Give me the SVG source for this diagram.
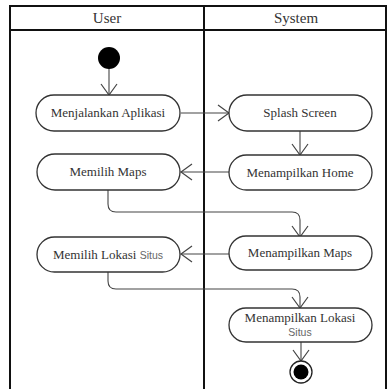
<svg xmlns="http://www.w3.org/2000/svg" width="388" height="391" viewBox="0 0 388 391">
  <style>
    .frame { fill: none; stroke: #111; stroke-width: 2; }
    .act rect { fill: #fff; stroke: #333; stroke-width: 1.3; }
    .lbl { font-family: "Liberation Serif", "Times New Roman", serif; font-size: 13px; fill: #333; text-anchor: middle; }
    .sans { font-family: "Liberation Sans", Arial, sans-serif; font-size: 10.5px; fill: #666; }
    .head { font-family: "Liberation Serif", "Times New Roman", serif; font-size: 15px; fill: #333; text-anchor: middle; }
    .flow { fill: none; stroke: #444; stroke-width: 1.1; marker-end: url(#open); }
  </style>
  <defs>
    <marker id="open" viewBox="0 0 13 18" refX="12" refY="9" markerWidth="13" markerHeight="18" markerUnits="userSpaceOnUse" orient="auto">
      <path d="M1,1 L12,9 L1,17" fill="none" stroke="#444" stroke-width="1.2"/>
    </marker>
  </defs>
  <rect width="388" height="391" fill="#fff"/>

  <!-- swimlanes -->
  <g id="lanes">
    <path class="frame" d="M10,389 V6 H386 V389"/>
    <path class="frame" d="M10,30 H386"/>
    <path class="frame" d="M204,6 V389"/>
    <text class="head" x="107" y="23">User</text>
    <text class="head" x="296" y="23">System</text>
  </g>

  <!-- connectors -->
  <g id="connectors">
    <path class="flow" d="M109,68 V95"/>
    <path class="flow" d="M181,113 H229"/>
    <path class="flow" d="M300,131 V155"/>
    <path class="flow" d="M229,172 H181"/>
    <path class="flow" d="M108,190 V204 Q108,212 116,212 H292 Q300,212 300,220 V237"/>
    <path class="flow" d="M229,254 H181"/>
    <path class="flow" d="M108,272 V281 Q108,289 116,289 H292 Q300,289 300,297 V308"/>
    <path class="flow" d="M301,342 V361"/>
  </g>

  <!-- initial node -->
  <g id="start">
    <circle cx="109" cy="58" r="11" fill="#000"/>
  </g>

  <g id="menjalankan" class="act">
    <rect x="36" y="95" width="144" height="36" rx="18"/>
    <text class="lbl" x="108" y="117">Menjalankan Aplikasi</text>
  </g>

  <g id="splash" class="act">
    <rect x="229" y="95" width="143" height="36" rx="18"/>
    <text class="lbl" x="300" y="117">Splash Screen</text>
  </g>

  <g id="home" class="act">
    <rect x="229" y="155" width="143" height="35" rx="17.5"/>
    <text class="lbl" x="300" y="177">Menampilkan Home</text>
  </g>

  <g id="memilih-maps" class="act">
    <rect x="37" y="154" width="143" height="36" rx="18"/>
    <text class="lbl" x="108" y="176">Memilih Maps</text>
  </g>

  <g id="maps" class="act">
    <rect x="229" y="236" width="143" height="34" rx="17"/>
    <text class="lbl" x="300" y="257">Menampilkan Maps</text>
  </g>

  <g id="memilih-lokasi" class="act">
    <rect x="37" y="237" width="143" height="35" rx="17.5"/>
    <text class="lbl" x="108" y="259">Memilih Lokasi <tspan class="sans">Situs</tspan></text>
  </g>

  <g id="lokasi" class="act">
    <rect x="229" y="308" width="143" height="34" rx="17"/>
    <text class="lbl" x="300" y="322">Menampilkan Lokasi</text>
    <text class="lbl sans" x="300" y="336">Situs</text>
  </g>

  <!-- final node -->
  <g id="end">
    <circle cx="301" cy="372" r="11" fill="#fff" stroke="#222" stroke-width="1.3"/>
    <circle cx="301" cy="372" r="7.5" fill="#000"/>
  </g>
</svg>
